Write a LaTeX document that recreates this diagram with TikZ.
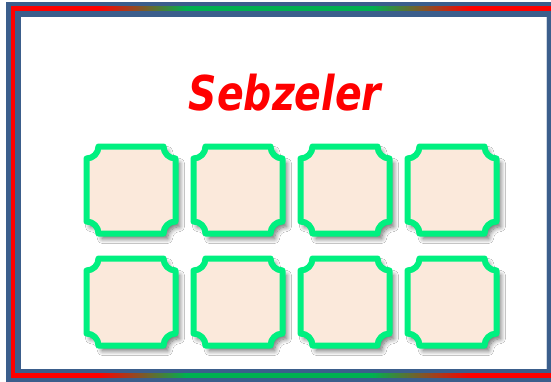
\documentclass[tikz,border=0pt]{standalone}
\usepackage{fontspec}
\usetikzlibrary{shadows.blur}
\definecolor{frameblue}{RGB}{59,94,140}
\definecolor{framered}{RGB}{255,0,0}
\definecolor{framegreen}{RGB}{0,176,80}
\definecolor{plaqueline}{RGB}{0,240,128}
\definecolor{plaquefill}{RGB}{251,233,219}
\definecolor{titlered}{RGB}{255,0,0}
\pgfdeclarehorizontalshading{rgr}{100bp}{color(0bp)=(framered); color(33bp)=(framered); color(41bp)=(framegreen); color(58bp)=(framegreen); color(67bp)=(framered); color(100bp)=(framered)}
\newfontfamily\titlefont{DejaVu Sans}
\tikzset{
  plaquestyle/.style={draw=plaqueline, fill=plaquefill, line width=6pt, line join=round,
    blur shadow={shadow xshift=4pt, shadow yshift=-5pt, shadow blur steps=10, shadow blur radius=5pt, shadow opacity=60}},
  plaque/.pic={
    \path[plaquestyle]
      (-32.5,43.5) -- (32.5,43.5) arc[start angle=180,end angle=270,radius=12]
      -- (44.5,-31.5) arc[start angle=90,end angle=180,radius=12]
      -- (-32.5,-43.5) arc[start angle=0,end angle=90,radius=12]
      -- (-44.5,31.5) arc[start angle=-90,end angle=0,radius=12] -- cycle;
  },
  titlestyle/.style={font=\titlefont\bfseries\itshape\fontsize{48}{48}\selectfont, text=titlered, xscale=0.82, inner sep=0pt}
}
\begin{document}
\begin{tikzpicture}[x=1pt,y=1pt]
\useasboundingbox (0,0) rectangle (551,381);
\clip (0,0) rectangle (551,381);
% outer blue frame
\fill[frameblue] (6,-2) rectangle (562,379);
% red / gradient line
\fill[framered] (11,4) rectangle (15,374);
\shade[shading=rgr] (11,370) rectangle (558,374);
\shade[shading=rgr] (11,4) rectangle (558,8);
% white inner area
\fill[white] (21,12) rectangle (546,364);
\draw[frameblue!25, line width=1pt] (546.5,12) -- (546.5,364);
% title
\node[titlestyle, anchor=base] (title) at (285,271) {Sebzeler};
% plaques
\pic (p1) at (131,191) {plaque};
\pic (p2) at (238,191) {plaque};
\pic (p3) at (345,191) {plaque};
\pic (p4) at (452,191) {plaque};
\pic (p5) at (131,79) {plaque};
\pic (p6) at (238,79) {plaque};
\pic (p7) at (345,79) {plaque};
\pic (p8) at (452,79) {plaque};
\end{tikzpicture}
\end{document}
